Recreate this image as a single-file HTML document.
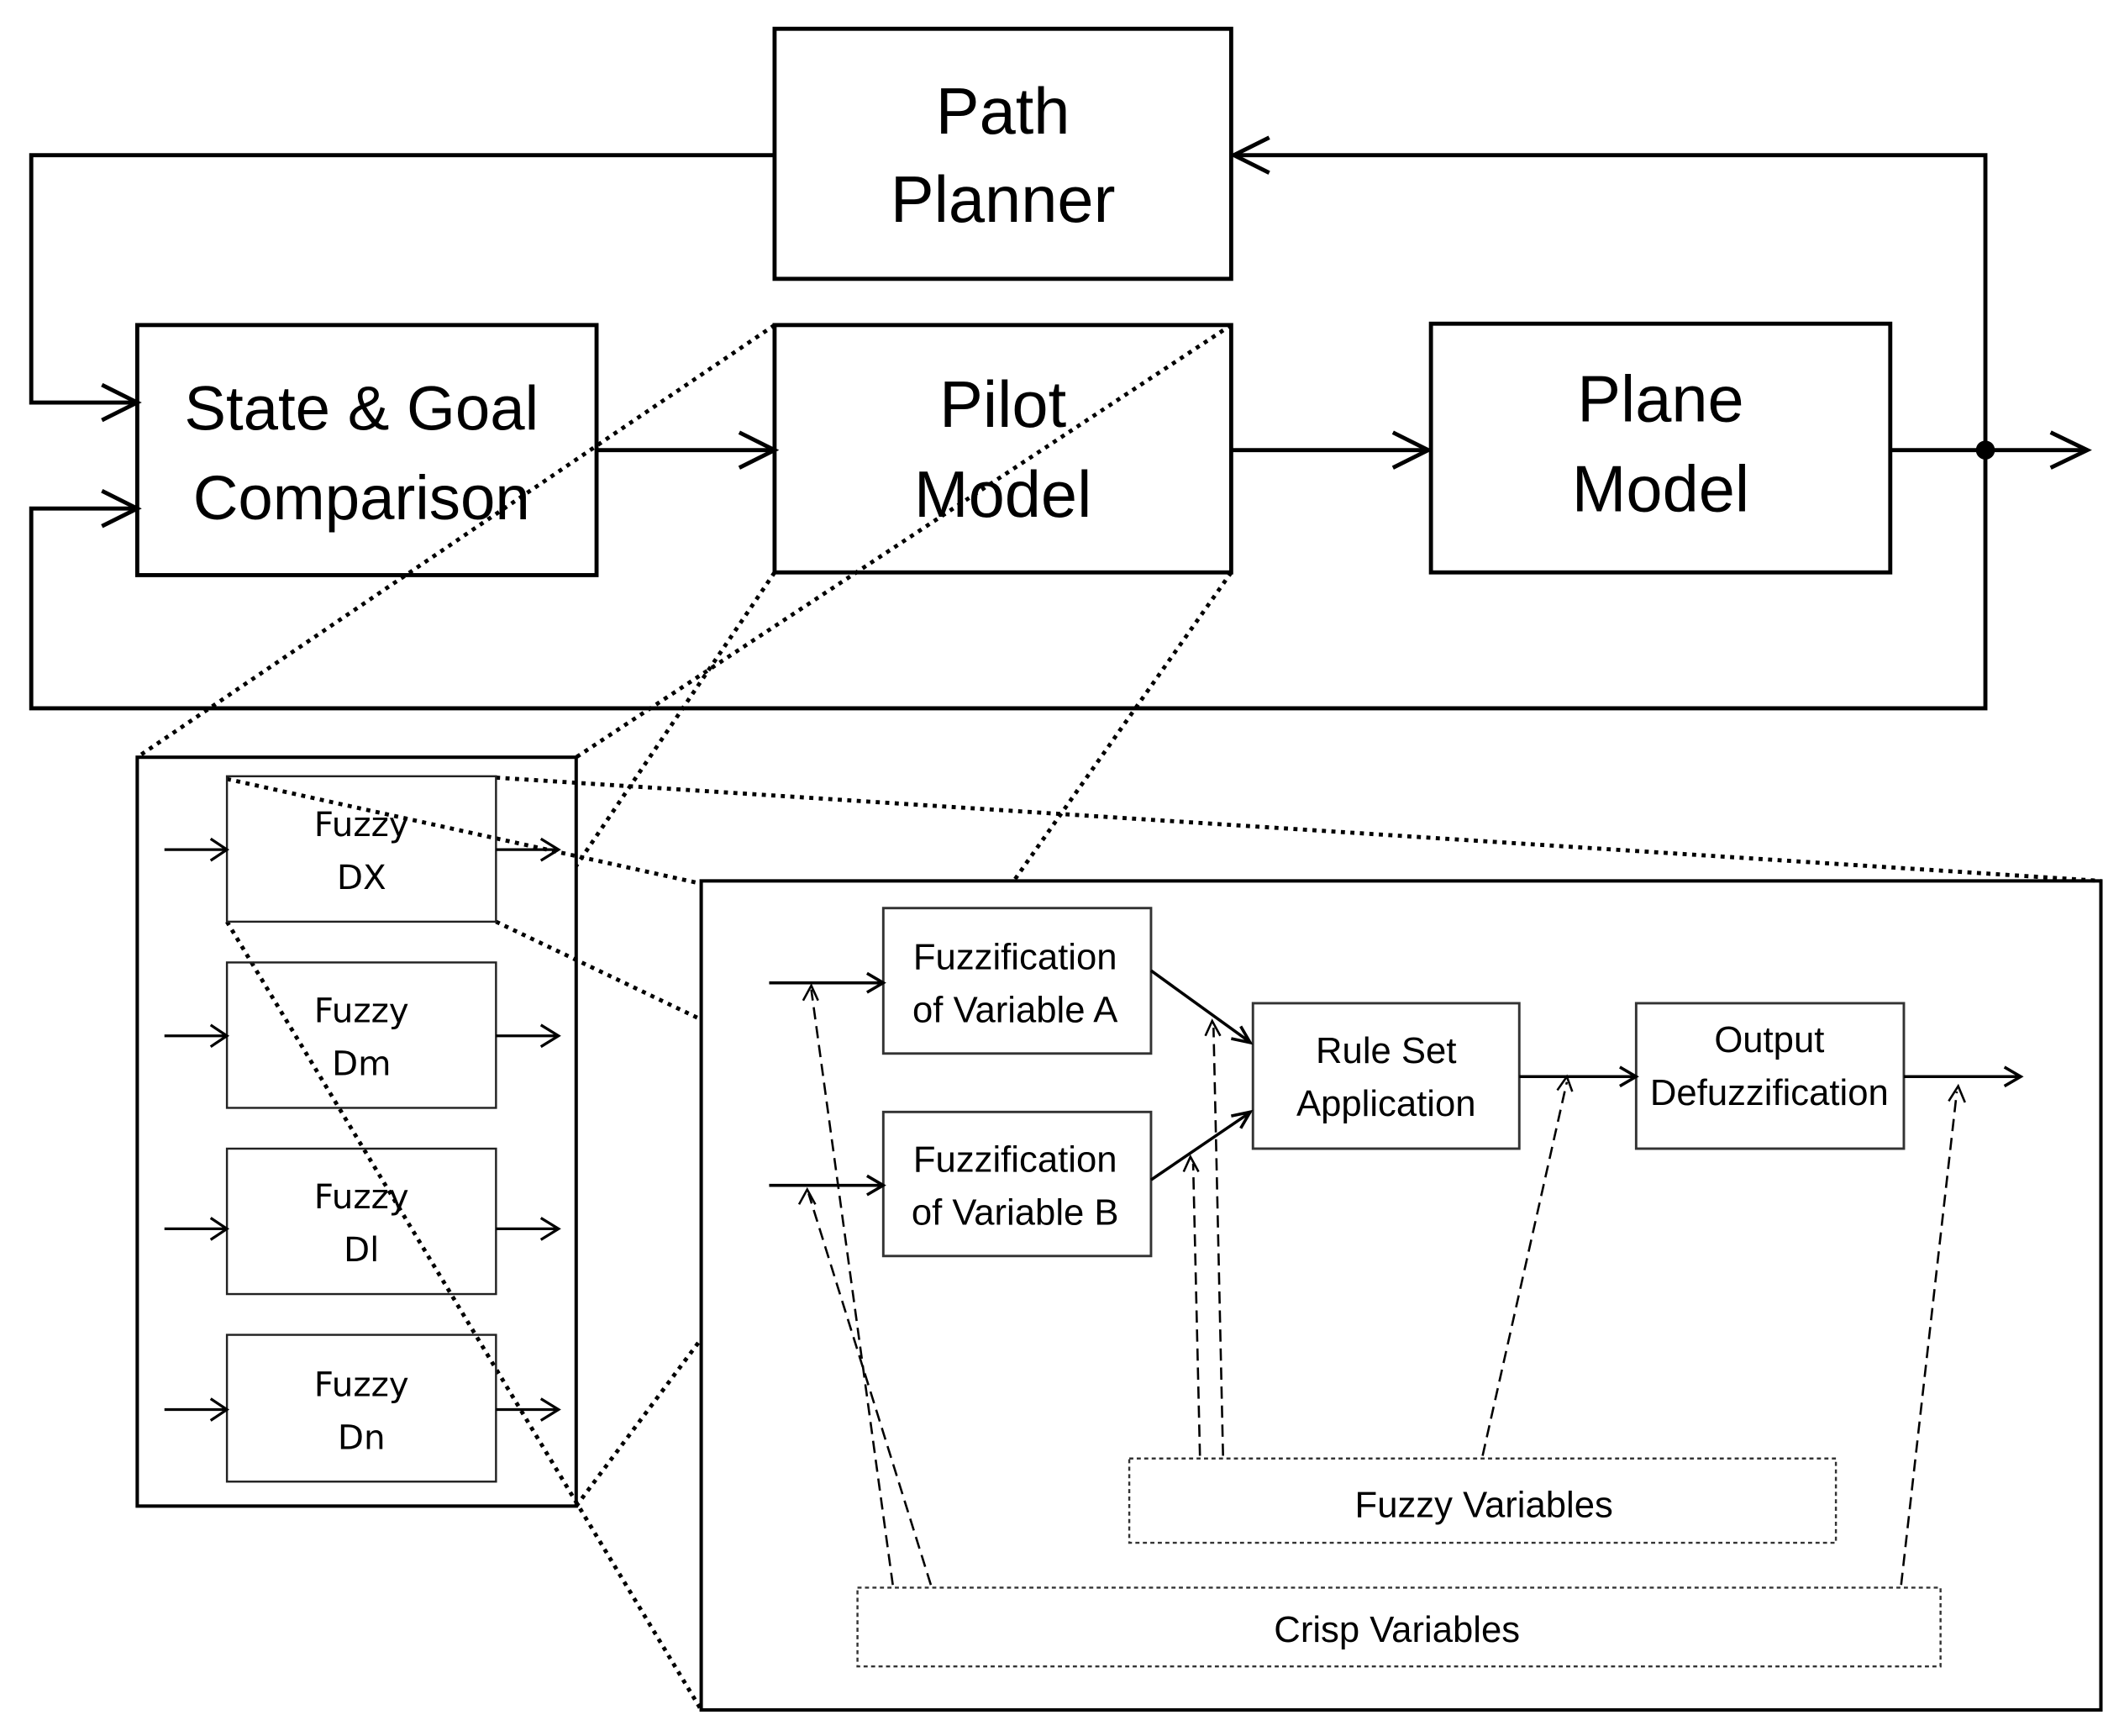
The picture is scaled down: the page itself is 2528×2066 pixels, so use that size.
<!DOCTYPE html>
<html><head><meta charset="utf-8"><style>
html,body{margin:0;padding:0;background:#fff;}
svg{display:block;}
text{font-family:"Liberation Sans",sans-serif;fill:#000;text-anchor:middle;}
.d{font-family:"DejaVu Sans","Liberation Sans",sans-serif;}
</style></head><body>
<svg width="2528" height="2066" viewBox="0 0 1563 1277" xmlns="http://www.w3.org/2000/svg">
<g fill="none" stroke="#000" stroke-width="3">
<rect x="570" y="21" width="336" height="184"/>
<rect x="101" y="239" width="338" height="184"/>
<rect x="570" y="239" width="336" height="182"/>
<rect x="1053" y="238" width="338" height="183"/>
<polyline points="570,114 23,114 23,296 99,296"/>
<polyline points="1461,331 1461,521 23,521 23,374 99,374"/>
<polyline points="1461,331 1461,114 908,114"/>
<line x1="439" y1="331" x2="568" y2="331"/>
<line x1="906" y1="331" x2="1051" y2="331"/>
<line x1="1391" y1="331" x2="1535" y2="331"/>
<path d="M75,283 L101,296 L75,309 M75,361 L101,374 L75,387 M544,318 L570,331 L544,344 M1025,318 L1051,331 L1025,344 M1509,318 L1536,331 L1509,344 M934,101 L908,114 L934,127"/>
<rect x="101" y="557" width="323" height="551" stroke-width="2.5"/>
<rect x="516" y="648" width="1030" height="610" stroke-width="2.5"/>
</g>
<circle cx="1461" cy="331" r="7" fill="#000"/>
<g fill="none" stroke="#000" stroke-width="3" stroke-dasharray="3 4">
<line x1="570" y1="239" x2="101" y2="557"/>
<line x1="906" y1="239" x2="424" y2="557"/>
<line x1="570" y1="421" x2="424" y2="637"/>
<line x1="906" y1="421" x2="746" y2="648"/>
<line x1="365" y1="572" x2="1546" y2="648"/>
<line x1="167" y1="573" x2="516" y2="650"/>
<line x1="365" y1="678" x2="516" y2="750"/>
<line x1="167" y1="678" x2="516" y2="1258"/>
<line x1="424" y1="1108" x2="516" y2="985"/>
</g>
<g fill="none" stroke="#222" stroke-width="1.5">
<rect x="167" y="571" width="198" height="107"/>
<rect x="167" y="708" width="198" height="107"/>
<rect x="167" y="845" width="198" height="107"/>
<rect x="167" y="982" width="198" height="108"/>
</g>
<g fill="none" stroke="#000" stroke-width="2">
<path d="M121,625 H166 M155,617 L167,625 L155,633 M365,625 H410 M398,617 L411,625 L398,633"/>
<path d="M121,762 H166 M155,754 L167,762 L155,770 M365,762 H410 M398,754 L411,762 L398,770"/>
<path d="M121,904 H166 M155,896 L167,904 L155,912 M365,904 H410 M398,896 L411,904 L398,912"/>
<path d="M121,1037 H166 M155,1029 L167,1037 L155,1045 M365,1037 H410 M398,1029 L411,1037 L398,1045"/>
</g>
<g fill="none" stroke="#333" stroke-width="1.8">
<rect x="650" y="668" width="197" height="107"/>
<rect x="650" y="818" width="197" height="106"/>
<rect x="922" y="738" width="196" height="107"/>
<rect x="1204" y="738" width="197" height="107"/>
</g>
<g fill="none" stroke="#333" stroke-width="1.5" stroke-dasharray="3 2.5">
<rect x="831" y="1073" width="520" height="62"/>
<rect x="631" y="1168" width="797" height="58"/>
</g>
<g fill="none" stroke="#000" stroke-width="2.2">
<path d="M566,723 H648 M638,716 L650,723 L638,730"/>
<path d="M566,872 H648 M638,865 L650,872 L638,879"/>
<path d="M847,714 L919,766 M906,764 L920,767 L913,755"/>
<path d="M847,868 L919,819 M906,821 L920,818 L913,830"/>
<path d="M1118,792 H1202 M1192,785 L1204,792 L1192,799"/>
<path d="M1401,792 H1485 M1475,785 L1487,792 L1475,799"/>
</g>
<g fill="none" stroke="#000" stroke-width="1.6" stroke-dasharray="9 5">
<line x1="657" y1="1166" x2="597" y2="728"/>
<line x1="685" y1="1166" x2="595" y2="878"/>
<line x1="883" y1="1071" x2="878" y2="856"/>
<line x1="900" y1="1071" x2="893" y2="756"/>
<line x1="1091" y1="1071" x2="1153" y2="796"/>
<line x1="1399" y1="1166" x2="1440" y2="803"/>
</g>
<g fill="none" stroke="#000" stroke-width="1.6">
<path d="M591,736 L597,725 L602,736"/>
<path d="M588,886 L594,875 L600,886"/>
<path d="M871,862 L876,851 L882,862"/>
<path d="M887,762 L892,751 L898,762"/>
<path d="M1146,802 L1153,792 L1157,803"/>
<path d="M1434,810 L1441,799 L1446,811"/>
</g>
<text x="738" y="98" font-size="48">Path</text>
<text x="738" y="163" font-size="48">Planner</text>
<text x="266" y="316" font-size="46">State &amp; Goal</text>
<text x="266" y="382" font-size="46">Comparison</text>
<text x="738" y="314" font-size="48">Pilot</text>
<text x="738" y="380" font-size="48">Model</text>
<text x="1222" y="310" font-size="48">Plane</text>
<text x="1222" y="376" font-size="48">Model</text>
<g font-size="25">
<text class="d" x="266" y="615">Fuzzy</text><text class="d" x="266" y="654">DX</text>
<text class="d" x="266" y="752">Fuzzy</text><text class="d" x="266" y="791">Dm</text>
<text class="d" x="266" y="889">Fuzzy</text><text class="d" x="266" y="928">Dl</text>
<text class="d" x="266" y="1027">Fuzzy</text><text class="d" x="266" y="1066">Dn</text>
</g>
<g font-size="27">
<text x="747" y="713">Fuzzification</text><text x="747" y="752">of Variable A</text>
<text x="747" y="862">Fuzzification</text><text x="747" y="901">of Variable B</text>
<text x="1020" y="782">Rule Set</text><text x="1020" y="821">Application</text>
<text x="1302" y="774">Output</text><text x="1302" y="813">Defuzzification</text>
<text x="1092" y="1116">Fuzzy Variables</text>
<text x="1028" y="1208">Crisp Variables</text>
</g>
</svg>
</body></html>
